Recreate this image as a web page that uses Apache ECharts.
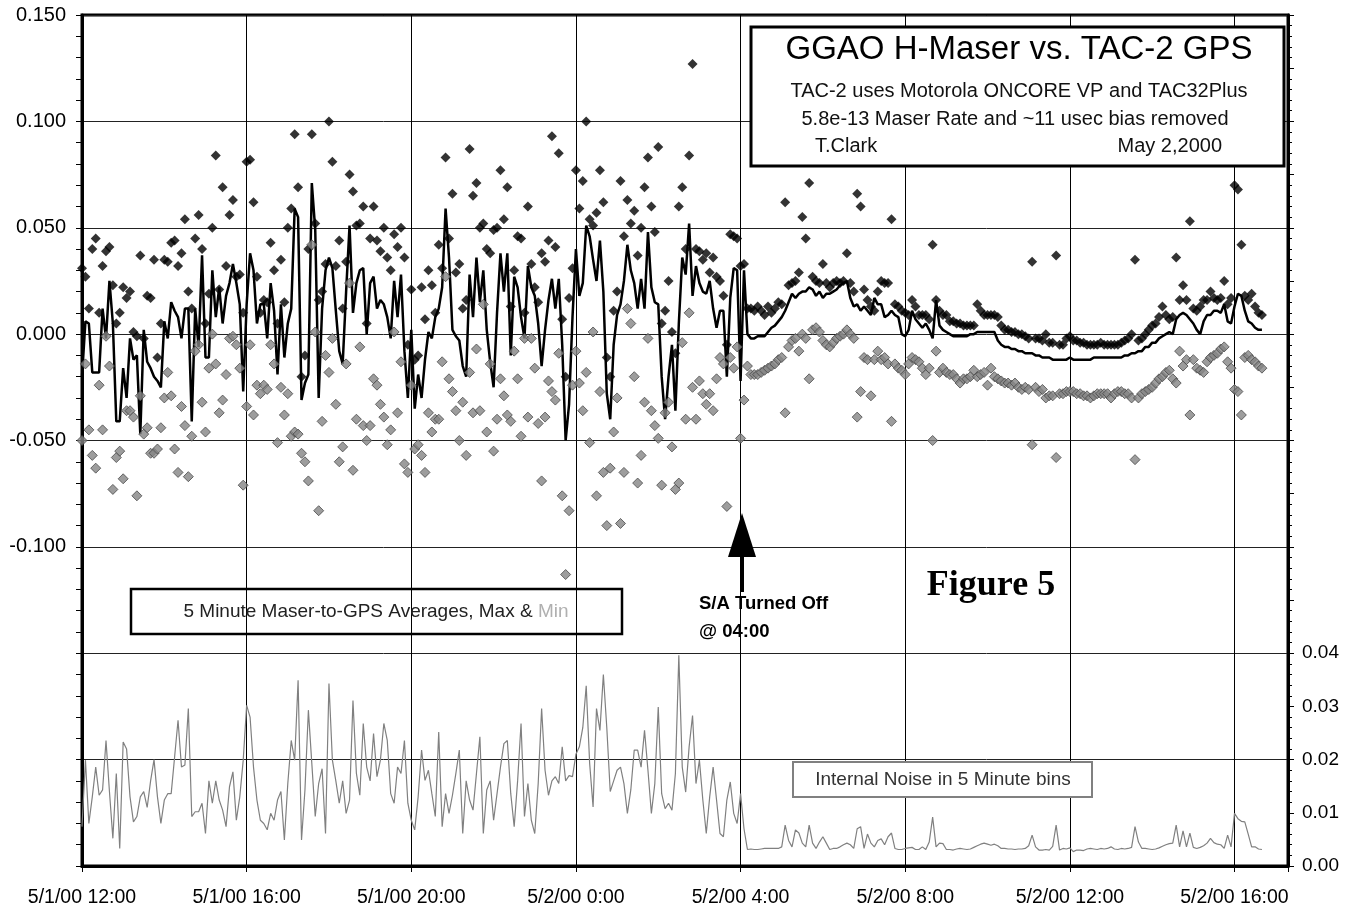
<!DOCTYPE html>
<html>
<head>
<meta charset="utf-8">
<title>GGAO H-Maser vs. TAC-2 GPS</title>
<script src="https://cdn.jsdelivr.net/npm/echarts/dist/echarts.min.js"></script>
<style>
  html, body { margin: 0; padding: 0; background: #fff; }
  #chart { width: 1353px; height: 909px; }
</style>
</head>
<body>
<div id="chart"></div>
<script>
// 5 minute bins starting 5/1/00 12:00 ; values in ns (axes show usec)
var binMinutes = 5;

var avgNs = [
  -20, 6, 5, -18, -18, -18, 12, -2, 25, 5,
  -41, -41, -16, -30, -2, -12, -10, -47, 2, -13,
  -16, -20, -22, -25, 6, -2, 15, 11, 8, -2,
  12, 12, -41, 12, -6, 37, -11, -11, 30, 8,
  22, 5, 18, 24, 33, 24, 14, -27, 14, 38,
  30, 5, 14, 14, -2, 24, 11, -19, 14, -11,
  5, 12, 59, 55, -31, -23, -19, 71, 49, -30,
  12, 30, 36, 31, 11, -8, -14, 20, 51, 10,
  24, 30, 31, 0, 24, 27, 12, 16, 14, 8,
  -2, 25, 8, 28, -8, -30, 2, -35, -19, -30,
  -12, 1, -2, 8, 12, 22, 59, 36, 2, -1,
  -3, -15, -20, 28, 8, 36, 15, 30, 2, -13,
  -25, 10, 38, 20, 38, -10, 27, 22, 8, -2,
  32, 22, 18, 5, -15, 2, 16, 26, 12, 26,
  -5, -50, -33, 8, 40, 18, 24, 51, 46, 35,
  25, 44, 20, -28, -40, -5, 9, 14, 25, 42,
  30, 24, 12, 26, 12, 48, 22, 15, 14, -20,
  -40, -20, -5, -36, 5, 36, 28, 52, 18, 32,
  24, 20, 19, 25, 12, 3, 11, 11, -20, 17,
  31, 30, -22, 30, 0, -2, -2, -1, -1, -1,
  1, 3, 4, 6, 8, 11, 15, 19, 17, 19,
  20, 20, 22, 21, 18, 20, 17, 19, 19, 20,
  21, 23, 24, 25, 17, 13, 14, 11, 13, 11,
  9, 17, 14, 14, 8, 9, 11, 9, 8, 0,
  -1, 2, 11, 7, 5, 3, 5, 2, -2, 16,
  4, 2, 1, 0, -1, -1, -1, -1, -1, 0,
  0, 1, 1, 1, 1, 1, 1, -3, -5, -6,
  -6, -7, -7, -8, -8, -9, -9, -9, -10, -10,
  -11, -11, -11, -12, -12, -12, -12, -12, -11, -12,
  -12, -12, -12, -12, -12, -11, -11, -11, -11, -11,
  -11, -11, -11, -11, -10, -10, -9, -9, -8, -8,
  -6, -6, -4, -4, -2, -1, 0, 1, 0, 7,
  9, 10, 9, 7, 5, 2, 0, 6, 9, 9,
  11, 11, 10, 14, 6, 5, 13, 19, 18, 11,
  6, 5, 3, 2, 2
];

var maxNs = [
  31, 27, 12, 40, 45, 10, 32, 39, 41, 23,
  5, 10, 22, 17, 20, 1, -1, 37, -2, 18,
  17, 35, -11, 5, 35, 34, 43, 44, 32, 38,
  54, 20, 12, 45, 56, 40, 5, 19, 50, 84,
  21, 69, 32, 56, 63, 27, 28, 10, 81, 82,
  62, 27, 10, 16, 15, 43, 30, 5, 35, 15,
  50, 59, 94, 69, -20, -10, 40, 94, 52, 16,
  20, 33, 100, 81, 32, 44, 12, 34, 75, 67,
  51, 52, 60, 5, 45, 60, 44, 39, 50, 36,
  30, 47, 41, 50, 36, -5, 21, -12, -10, 22,
  7, 30, 23, 10, 42, 31, 83, 45, 66, 29,
  33, 12, 16, 87, 65, 71, 50, 52, 40, 38,
  49, 50, 77, 54, 69, 13, 30, 46, 45, 10,
  60, 33, 22, 15, 38, 34, 44, 93, 41, 85,
  7, -20, 17, 31, 77, 59, 72, 100, 54, 51,
  57, 77, 62, -11, -20, 11, 20, 72, 46, 63,
  52, 58, 37, 50, 69, 83, 60, 48, 88, 5,
  11, 25, 1, -9, 60, 69, 40, 84, 127, 40,
  39, 35, 38, 29, 36, 27, 25, 18, -5, 47,
  46, 45, 32, 33, 12, 12, 11, 13, 11, 9,
  13, 10, 12, 15, 14, 62, 23, 24, 25, 29,
  55, 45, 71, 27, 25, 24, 33, 24, 22, 24,
  25, 24, 25, 38, 24, 20, 66, 60, 21, 16,
  13, 11, 20, 25, 24, 24, 54, 14, 13, 11,
  10, 9, 16, 13, 9, 9, 9, 7, 42, 16,
  11, 9, 9, 6, 6, 5, 5, 4, 4, 4,
  4, 14, 11, 9, 9, 9, 9, 8, 4, 2,
  2, 1, 1, 0, 0, -1, -2, 34, -2, -2,
  -3, 0, -4, -4, 37, -5, -5, -2, -1, -3,
  -3, -4, -4, -5, -5, -5, -5, -4, -5, -5,
  -5, -5, -5, -4, -3, -2, 0, 35, -3, -2,
  0, 2, 4, 5, 8, 13, 9, 7, 8, 36,
  16, 23, 16, 53, 12, 11, 13, 16, 16, 20,
  17, 16, 17, 25, 14, 17, 70, 68, 42, 18,
  16, 19, 13, 10, 9
];

var minNs = [
  -50, -14, -45, -57, -63, -24, -45, -1, -15, -73,
  -58, -55, -68, -36, -36, -39, -76, -29, -47, -44,
  -56, -56, -54, -44, -30, -18, -29, -54, -65, -34,
  -43, -67, -48, -8, -5, -32, -46, -16, 0, -14,
  -37, -31, -19, -2, -1, -5, -16, -71, -34, -5,
  -38, -24, -28, -24, -26, -5, -14, -51, -25, -38,
  -28, -48, -46, -47, -56, -60, -69, 42, 1, -83,
  -41, -10, -18, -2, -33, -60, -53, -14, 24, -64,
  -40, -6, -43, -50, -43, -21, -24, -33, -39, -52,
  -45, 1, -37, -13, -61, -65, -24, -54, -52, -57,
  -65, -37, -46, -40, -40, -13, 27, -21, -27, -36,
  -50, -32, -57, -18, -37, -7, -36, 14, -46, -14,
  -55, -40, -21, -29, -38, -41, -8, -21, -48, -2,
  -39, -2, -16, -42, -69, -39, -22, -27, -31, -9,
  -76, -113, -83, -24, -8, -23, -36, -18, -51, 1,
  -76, -27, -65, -90, -63, -46, -30, -89, -65, 12,
  5, -20, -70, -57, -32, -2, -36, -43, -49, -71,
  -37, -32, -53, -73, -70, -4, -40, 10, -25, -40,
  -22, -28, -33, -28, -36, -21, -11, -14, -81, -11,
  -16, -6, -49, -31, -15, -19, -19, -19, -18, -17,
  -16, -15, -14, -12, -11, -37, -6, -3, -2, -8,
  0, -2, -21, 2, 3, 1, -3, -5, -6, -4,
  -2, -1, 0, 2, 0, -2, -39, -27, -11, -12,
  -29, -12, -8, -12, -11, -14, -41, -14, -16, -17,
  -19, -14, -11, -12, -13, -16, -19, -16, -50, -8,
  -18, -16, -18, -19, -19, -21, -23, -21, -21, -20,
  -17, -20, -19, -18, -24, -16, -20, -21, -22, -23,
  -23, -24, -23, -25, -26, -25, -26, -52, -25, -27,
  -26, -30, -29, -29, -58, -28, -28, -27, -27, -27,
  -28, -28, -29, -29, -30, -29, -28, -28, -28, -28,
  -30, -28, -27, -27, -28, -28, -30, -59, -30, -28,
  -27, -26, -25, -23, -21, -20, -18, -17, -21, -23,
  -8, -15, -12, -38, -12, -16, -17, -18, -13, -11,
  -10, -9, -7, -6, -13, -16, -26, -27, -38, -11,
  -10, -12, -13, -15, -16
];

var noiseNs = [
  7.4, 19.9, 8, 13, 18.6, 13.3, 14.3, 23.6, 14, 5.2,
  17.4, 3.3, 23.3, 22, 13, 8.3, 9.3, 13, 14, 11,
  16, 20, 13, 8, 12.4, 13.6, 13.6, 20.5, 27.4, 18.6,
  19, 29.6, 9.3, 10.2, 10.2, 11.8, 6.1, 16, 11.8, 16,
  12.4, 10.5, 7.4, 14.9, 17.7, 8.6, 13, 19.9, 30.2, 28,
  18.6, 12.4, 8.6, 8, 6.8, 9.9, 8.6, 12.4, 14, 4.9,
  15.5, 23.6, 19.9, 34.9, 4.9, 14.3, 29.3, 19.3, 9.3, 15.5,
  18.3, 6.1, 34.3, 19.9, 16, 11.8, 16, 9.9, 12.4, 31.1,
  17.4, 13.3, 26.8, 18.6, 16, 24.9, 16.8, 19.9, 26.8, 23.6,
  13.6, 11.8, 18.6, 17.4, 23.6, 11.8, 8.6, 6.8, 13, 21.8,
  16.1, 18, 13.6, 9.3, 25.2, 7.4, 13.6, 9.9, 13.3, 17.4,
  21.8, 6.1, 16, 12.4, 10.5, 17.4, 24.3, 6.1, 14.3, 16,
  8.6, 13.6, 18.6, 23, 23.6, 13.6, 7.4, 16, 26.8, 9.3,
  15.5, 8.6, 6.1, 15.5, 29.6, 18, 13.3, 16, 16.8, 15.5,
  22.4, 16, 17, 16.8, 21, 22.4, 26, 33.9, 19.3, 11.1,
  29.6, 25.5, 36, 26, 14, 16, 18, 18.6, 15.5, 9.9,
  14.3, 21.8, 21.8, 18.6, 25.5, 18, 9.9, 15.5, 29.9, 13.6,
  10.8, 11.8, 10.5, 17.4, 39.6, 18.6, 13.9, 22.4, 28.3, 15.5,
  19.9, 12.4, 6.1, 13, 18.6, 12.4, 6.1, 5.5, 12.4, 15.8,
  9.9, 8, 13.6, 7, 3.1, 3.2, 3.1, 3.1, 3.2, 3.3,
  3.3, 3.3, 3.3, 3.3, 3.6, 7.7, 4.8, 3.6, 6.8, 6.2,
  4.3, 3.6, 7.7, 4.3, 3.3, 4.5, 5.5, 4.3, 3.1, 3.3,
  3.3, 3.6, 4, 4.3, 4, 3.3, 7, 7.4, 3.3, 6,
  4.3, 3.6, 4.8, 5.1, 4, 5.5, 6.2, 3.3, 3.1, 3.1,
  3.3, 3.4, 3.5, 3.1, 3.1, 3.6, 3.1, 4.5, 9.2, 3.6,
  4.3, 4.2, 3.1, 3.1, 3, 3.2, 3.3, 3.2, 3.1, 3.2,
  3.5, 3.8, 4.1, 4.3, 4.1, 3.9, 4.1, 3.8, 3.3, 3.3,
  3.2, 3.2, 3.1, 3.2, 3.2, 3.3, 3.8, 5.8, 3.6, 3,
  3, 3.1, 3, 3.7, 7.7, 3, 3.3, 3.2, 3.4, 2.7,
  3, 3, 2.9, 3.2, 3.3, 3.2, 3.1, 3.3, 3.2, 3.3,
  3.6, 3.2, 3.1, 3.3, 3.2, 3.3, 3.5, 7.4, 4.5, 3.3,
  3.3, 3.2, 3.1, 3.2, 3.4, 3.7, 4, 4.2, 4.3, 7.7,
  3.6, 6.6, 3.6, 6.2, 3.5, 3.3, 3.5, 3.8, 4.3, 5.2,
  4.4, 4.1, 4, 3.3, 5.8, 3.6, 9.9, 8.9, 8.4, 8.3,
  6, 3.6, 3.6, 3.2, 3.1
];

// x ticks every 4 hours from 5/1/00 12:00
var xTickLabels = ['5/1/00 12:00', '5/1/00 16:00', '5/1/00 20:00', '5/2/00 0:00',
                   '5/2/00 4:00', '5/2/00 8:00', '5/2/00 12:00', '5/2/00 16:00'];

var font = 'Liberation Sans';

function pairs(vals) {
  return vals.map(function (v, i) { return [i * binMinutes / 60, v]; });
}

var myChart = echarts.init(document.getElementById('chart'));
var option = {
  animation: false,
  backgroundColor: '#fff',
  grid: {
    left: 82, right: 65, top: 15, bottom: 43,
    show: true, borderColor: '#000', borderWidth: 3, backgroundColor: 'transparent'
  },
  xAxis: {
    type: 'value',
    min: 0, max: 29.3, interval: 4,
    axisLine: { show: true, onZero: false, lineStyle: { color: '#000', width: 3 } },
    axisTick: { show: true, length: 6, lineStyle: { color: '#000', width: 1 } },
    splitLine: { show: true, lineStyle: { color: '#000', width: 1 } },
    axisLabel: {
      margin: 22, color: '#000', fontFamily: font, fontSize: 19.5,
      formatter: function (v) {
        var k = Math.round(v / 4);
        if (Math.abs(v - k * 4) > 1e-6) return '';
        return xTickLabels[k] || '';
      }
    }
  },
  yAxis: [{
    type: 'value',
    min: -250, max: 150, interval: 50,
    axisLine: { show: true, lineStyle: { color: '#000', width: 3 } },
    axisTick: { show: true, length: 6, lineStyle: { color: '#000' } },
    minorTick: { show: true, splitNumber: 5, length: 6, lineStyle: { color: '#000' } },
    splitLine: { show: true, lineStyle: { color: '#222', width: 1 } },
    axisLabel: {
      margin: 16, color: '#000', fontFamily: font, fontSize: 20,
      formatter: function (v) {
        return v >= -100 ? (v / 1000).toFixed(3) : '';
      }
    }
  }, {
    type: 'value',
    position: 'right',
    min: 0, max: 160, interval: 10,
    axisLine: { show: true, lineStyle: { color: '#000', width: 3 } },
    axisTick: { show: true, length: 6, lineStyle: { color: '#000' } },
    minorTick: { show: true, splitNumber: 5, length: 4, lineStyle: { color: '#000' } },
    splitLine: { show: false },
    axisLabel: {
      margin: 14, color: '#000', fontFamily: font, fontSize: 19,
      formatter: function (v) {
        return v <= 40 ? (v / 1000).toFixed(2) : '';
      }
    }
  }],
  series: [{
    name: 'Noise',
    type: 'line',
    yAxisIndex: 1,
    data: pairs(noiseNs),
    showSymbol: false,
    lineStyle: { color: '#808080', width: 1.2 },
    z: 2
  }, {
    name: 'Average',
    type: 'line',
    yAxisIndex: 0,
    data: pairs(avgNs),
    showSymbol: false,
    lineStyle: { color: '#000', width: 2.5 },
    z: 3
  }, {
    name: 'Max',
    type: 'scatter',
    yAxisIndex: 0,
    data: pairs(maxNs),
    symbol: 'diamond',
    symbolSize: 10,
    itemStyle: { color: '#000' },
    z: 4
  }, {
    name: 'Min',
    type: 'scatter',
    yAxisIndex: 0,
    data: pairs(minNs),
    symbol: 'diamond',
    symbolSize: 10,
    itemStyle: { color: '#858585', borderColor: '#4a4a4a', borderWidth: 1 },
    z: 4
  }],
  graphic: [
    // title box
    { type: 'rect', z: 100, shape: { x: 751, y: 27, width: 533, height: 139 },
      style: { fill: '#fff', stroke: '#000', lineWidth: 3 } },
    { type: 'text', z: 101, style: { text: 'GGAO H-Maser vs. TAC-2 GPS', x: 1019, y: 50,
      fontFamily: font, fontSize: 33, fill: '#000', align: 'center', verticalAlign: 'middle',
      textAlign: 'center', textVerticalAlign: 'middle' } },
    { type: 'text', z: 101, style: { text: 'TAC-2 uses Motorola ONCORE VP and TAC32Plus', x: 1019, y: 91,
      fontFamily: font, fontSize: 20, fill: '#111', align: 'center', verticalAlign: 'middle',
      textAlign: 'center', textVerticalAlign: 'middle' } },
    { type: 'text', z: 101, style: { text: '5.8e-13 Maser Rate and ~11 usec bias removed', x: 1015, y: 119,
      fontFamily: font, fontSize: 20, fill: '#111', align: 'center', verticalAlign: 'middle',
      textAlign: 'center', textVerticalAlign: 'middle' } },
    { type: 'text', z: 101, style: { text: 'T.Clark', x: 815, y: 146,
      fontFamily: font, fontSize: 20, fill: '#111', align: 'left', verticalAlign: 'middle',
      textAlign: 'left', textVerticalAlign: 'middle' } },
    { type: 'text', z: 101, style: { text: 'May 2,2000', x: 1222, y: 146,
      fontFamily: font, fontSize: 20, fill: '#111', align: 'right', verticalAlign: 'middle',
      textAlign: 'right', textVerticalAlign: 'middle' } },
    // averages legend box
    { type: 'rect', z: 100, shape: { x: 131, y: 589, width: 491, height: 45 },
      style: { fill: 'transparent', stroke: '#000', lineWidth: 2.5 } },
    { type: 'text', z: 101, style: {
      text: '{a|5 Minute Maser-to-GPS Averages, Max & }{b|Min}', x: 376, y: 612,
      rich: {
        a: { fontFamily: font, fontSize: 19, fill: '#222', color: '#222' },
        b: { fontFamily: font, fontSize: 19, fill: '#b0b0b0', color: '#b0b0b0' }
      },
      align: 'center', verticalAlign: 'middle', textAlign: 'center', textVerticalAlign: 'middle' } },
    // noise legend box
    { type: 'rect', z: 100, shape: { x: 793, y: 762, width: 299, height: 35 },
      style: { fill: '#fff', stroke: '#808080', lineWidth: 2 } },
    { type: 'text', z: 101, style: { text: 'Internal Noise in 5 Minute bins', x: 943, y: 780,
      fontFamily: font, fontSize: 19, fill: '#333', align: 'center', verticalAlign: 'middle',
      textAlign: 'center', textVerticalAlign: 'middle' } },
    // S/A arrow
    { type: 'polygon', z: 100, shape: { points: [[742, 513], [728, 557], [756, 557]] },
      style: { fill: '#000' } },
    { type: 'rect', z: 100, shape: { x: 740, y: 550, width: 4, height: 42 },
      style: { fill: '#000' } },
    { type: 'text', z: 101, style: { text: 'S/A Turned Off', x: 699, y: 604,
      fontFamily: font, fontSize: 18.5, fontWeight: 'bold', fill: '#000', align: 'left', verticalAlign: 'middle',
      textAlign: 'left', textVerticalAlign: 'middle' } },
    { type: 'text', z: 101, style: { text: '@ 04:00', x: 699, y: 632,
      fontFamily: font, fontSize: 18.5, fontWeight: 'bold', fill: '#000', align: 'left', verticalAlign: 'middle',
      textAlign: 'left', textVerticalAlign: 'middle' } },
    { type: 'text', z: 101, style: { text: 'Figure 5', x: 991, y: 586,
      fontFamily: 'Liberation Serif', fontSize: 36, fontWeight: 'bold', fill: '#000', align: 'center', verticalAlign: 'middle',
      textAlign: 'center', textVerticalAlign: 'middle' } }
  ]
};
myChart.setOption(option);
window.addEventListener('resize', function () {
  myChart.resize();
});
</script>
</body>
</html>
